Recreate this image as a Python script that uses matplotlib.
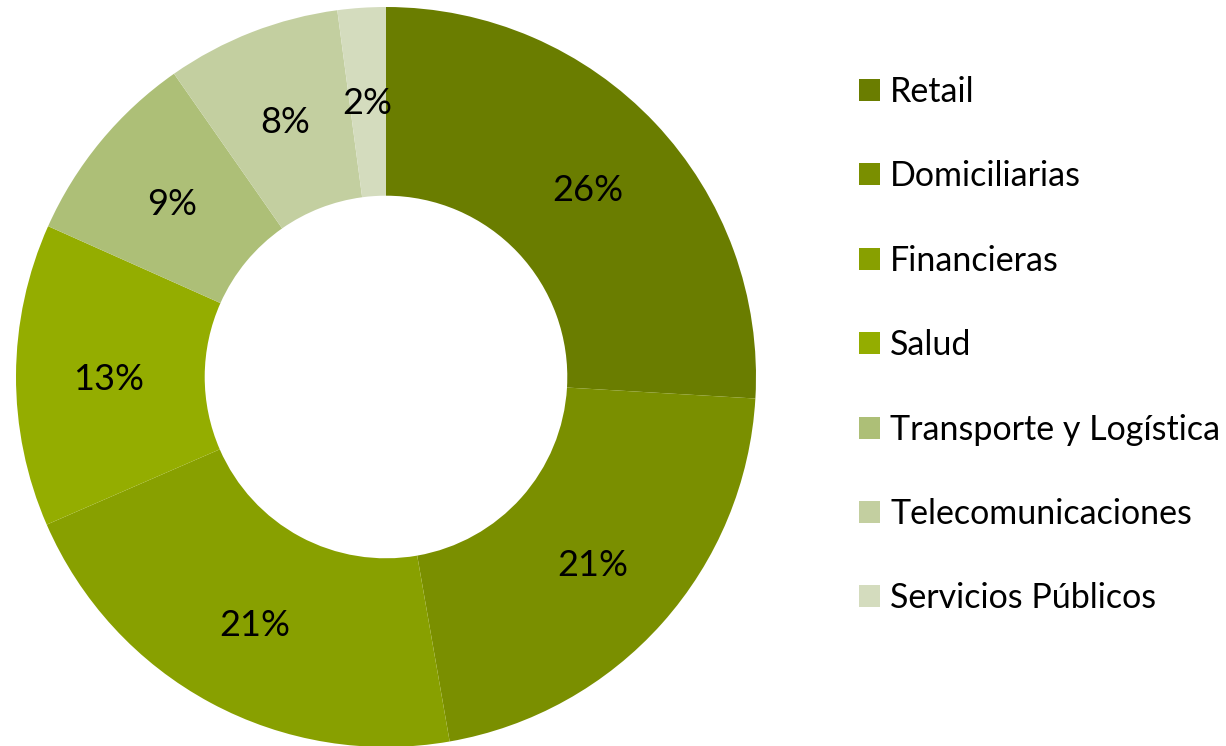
import matplotlib
matplotlib.use("Agg")
import matplotlib.pyplot as plt
from matplotlib.patches import Patch
import numpy as np

categories = ["Retail", "Domiciliarias", "Financieras", "Salud",
              "Transporte y Logística", "Telecomunicaciones", "Servicios Públicos"]
values = [25.9, 21.3, 21.2, 13.2, 8.6, 7.6, 2.1]
labels = ["26%", "21%", "21%", "13%", "9%", "8%", "2%"]
colors = ["#6a7d00", "#7a8f00", "#88a000", "#94ad00", "#adbf77", "#c3cfa0", "#d4dcbe"]

plt.rcParams['font.family'] = ['Lato', 'DejaVu Sans']

W, H = 1226, 746
fig = plt.figure(figsize=(W / 100, H / 100), dpi=100)
cx, cy, R = 386, 377, 370
ax = fig.add_axes([(cx - R) / W, (H - cy - R) / H, 2 * R / W, 2 * R / H])
wedges, _ = ax.pie(values, colors=colors, startangle=90, counterclock=False,
                   radius=1.0, wedgeprops=dict(width=0.51, edgecolor='none'))
for w, lab in zip(wedges, labels):
    ang = np.deg2rad((w.theta1 + w.theta2) / 2)
    ax.text(0.75 * np.cos(ang), 0.75 * np.sin(ang) - 0.01, lab, ha='center', va='center',
            fontsize=26, color='black')
ax.set_xlim(-1, 1)
ax.set_ylim(-1, 1)
ax.set_aspect('equal')
ax.axis('off')

handles = [Patch(facecolor=c, edgecolor='none') for c in colors]
fig.legend(handles, categories, loc='upper left', bbox_to_anchor=(859 / W, 1 - 76 / H),
           frameon=False, fontsize=24.5, handlelength=0.62, handleheight=0.62,
           handletextpad=0.3, labelspacing=1.54, borderaxespad=0, borderpad=0)

fig.savefig("out.png", dpi=100)
